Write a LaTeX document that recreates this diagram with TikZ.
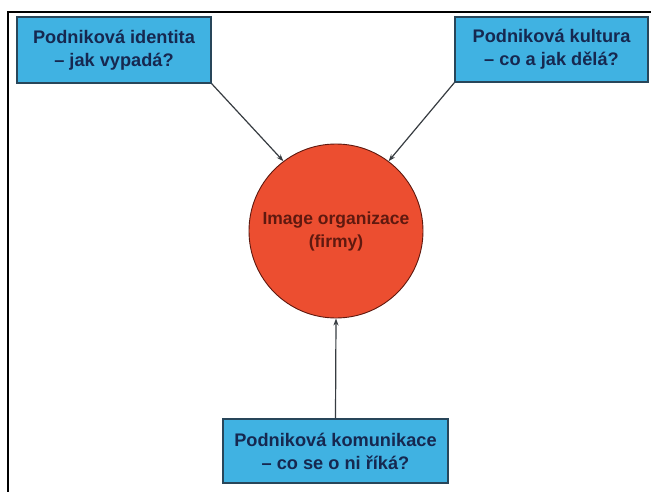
\documentclass[tikz,border=0pt]{standalone}
\usepackage{fontspec}
\setmainfont{Liberation Sans}
\usetikzlibrary{arrows.meta}
\definecolor{boxfill}{RGB}{64,178,226}
\definecolor{boxline}{RGB}{40,70,90}
\definecolor{boxtext}{RGB}{22,40,80}
\definecolor{ballfill}{RGB}{236,78,48}
\definecolor{balltext}{RGB}{95,25,15}
\definecolor{linkline}{RGB}{55,60,65}
\tikzset{
  topic/.style={draw=boxline, line width=1.3pt, fill=boxfill, rectangle,
    align=center, inner sep=0pt, text=boxtext,
    font=\fontsize{18.2}{23}\selectfont\bfseries},
  core/.style={draw=balltext, line width=0.9pt, fill=ballfill, circle,
    minimum size=174pt, inner sep=0pt, align=center, text=balltext,
    font=\fontsize{17.5}{23}\selectfont\bfseries},
  link/.style={draw=linkline, line width=1.2pt,
    -{Stealth[length=7pt,width=5pt]}}
}
\begin{document}
\begin{tikzpicture}[x=1pt,y=-1pt]
  \useasboundingbox (0,0) rectangle (651,492);
  \fill[white] (0,0) rectangle (651,492);
  % outer frame, its right and bottom sides lie past the page edge
  \begin{scope}
    \clip (0,0) rectangle (651,492);
    \draw[black, line width=2.8pt] (8,12) rectangle (670,510);
  \end{scope}

  \node[core] (img) at (336,231) {Image organizace\\(firmy)};

  \node[topic, minimum width=194pt, minimum height=66pt] (ident) at (114,50)
    {Podniková identita\\– jak vypadá?};
  \node[topic, minimum width=193pt, minimum height=65pt] (kult) at (551.5,49.5)
    {Podniková kultura\\– co a jak dělá?};
  \node[topic, minimum width=225pt, minimum height=64pt] (komu) at (335.5,451)
    {Podniková komunikace\\– co se o ni říká?};

  \draw[link] (ident.south east) -- (img.127);
  \draw[link] (kult.south west) -- (img.53);
  \draw[link] (komu.north) -- (img.south);
\end{tikzpicture}
\end{document}
